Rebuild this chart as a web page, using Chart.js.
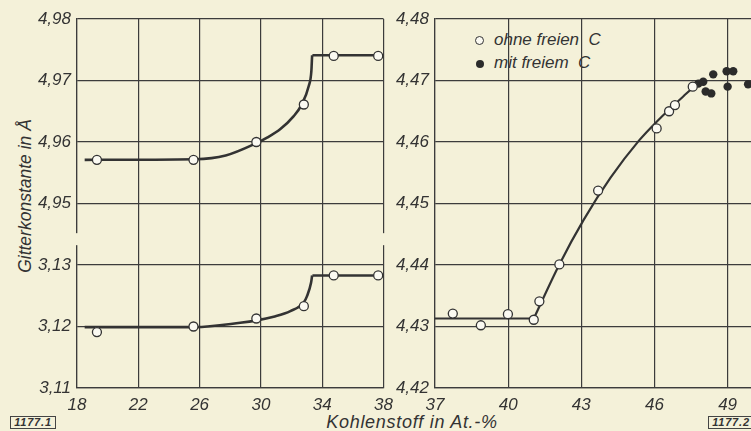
<!DOCTYPE html>
<html>
<head>
<meta charset="utf-8">
<script src="https://cdn.jsdelivr.net/npm/chart.js@4"></script>
<style>
  html, body { margin: 0; padding: 0; }
  body { width: 751px; height: 431px; overflow: hidden; position: relative; background: #f4f1d9; font-family: "Liberation Sans", Arial, sans-serif; font-style: italic; color: #333; }
  canvas { position: absolute; top: 0; }
  #links { left: 0; z-index: 2; }
  #rechts { left: 390px; z-index: 1; }
  .txt { position: absolute; white-space: pre; }
  #ytitel { left: 25px; top: 196px; font-size: 17.5px; transform: translate(-50%, -50%) rotate(-90deg); }
  #xtitel { left: 412px; top: 412px; font-size: 18px; letter-spacing: 0.7px; transform: translateX(-50%); }
  .box { position: absolute; border: 1.3px solid #444; font-size: 11px; font-weight: bold; width: 44px; height: 11px; text-align: center; line-height: 11px; letter-spacing: 0.8px; }
  .leg { position: absolute; font-size: 17px; line-height: 20px; }
  .kreis { position: absolute; width: 7px; height: 7px; border: 1.2px solid #333; border-radius: 50%; background: #fbfaf2; }
  .punkt { position: absolute; width: 8px; height: 8px; border-radius: 50%; background: #2b2b2b; }
</style>
</head>
<body>
<canvas id="links" width="400" height="431"></canvas>
<canvas id="rechts" width="370" height="431"></canvas>

<div class="txt" id="ytitel">Gitterkonstante in Å</div>
<div class="txt" id="xtitel">Kohlenstoff in At.-%</div>
<div class="box" style="left:10px; top:416px;">1177.1</div>
<div class="box" style="left:708px; top:416px;">1177.2</div>

<span class="kreis" style="left:475px; top:36px;"></span>
<div class="leg txt" style="left:494px; top:30px;">ohne freien  C</div>
<span class="punkt" style="left:476px; top:60px;"></span>
<div class="leg txt" style="left:494px; top:53px;">mit freiem  C</div>

<script>
// linkes Bild: Messpunkte (x gleich fuer beide Gitterkonstanten)
const xPunkteLinks = [19.3, 25.6, 29.7, 32.8, 34.75, 37.65];
const yPunkteOben = [4.9571, 4.9571, 4.9600, 4.9661, 4.9740, 4.9740];
const yPunkteUnten = [3.1191, 3.1200, 3.1213, 3.1233, 3.1283, 3.1283];

// linkes Bild: Ausgleichskurven
const xKurveOben = [18.5, 25.7, 27.7, 29.7, 30.4, 31.27, 32.14, 32.64, 33.12, 33.29, 33.34];
const yKurveOben = [4.9571, 4.9572, 4.9578, 4.9598, 4.9607, 4.9621, 4.9642, 4.9660, 4.9691, 4.9715, 4.9741];
const xKurveUnten = [18.5, 25.7, 28.65, 29.74, 30.83, 31.92, 32.79, 33.0, 33.27, 33.34];
const yKurveUnten = [3.1199, 3.1199, 3.1206, 3.1210, 3.1216, 3.1225, 3.1239, 3.1249, 3.1271, 3.1283];
const xPlateauLinks = [33.36, 38];
const yPlateauOben = [4.9741, 4.9741];
const yPlateauUnten = [3.1283, 3.1283];

const xTicksLinks = [18, 22, 26, 30, 34, 38];
const yTickLabelsLinks = ['3,11', '3,12', '3,13', '4,95', '4,96', '4,97', '4,98'];

// rechtes Bild
const xOhneC = [37.73, 38.88, 39.99, 41.05, 41.28, 42.1, 43.69, 46.09, 46.6, 46.84, 47.57];
const yOhneC = [4.4321, 4.4302, 4.4320, 4.4311, 4.4341, 4.4401, 4.4521, 4.4622, 4.4650, 4.4660, 4.4690];
const xMitC = [47.8, 48.0, 48.1, 48.33, 48.41, 48.96, 49.23, 49.0, 49.84];
const yMitC = [4.4695, 4.4698, 4.4682, 4.4679, 4.4710, 4.4715, 4.4715, 4.4690, 4.4694];
const xFlachRechts = [37, 41.05];
const yFlachRechts = [4.4313, 4.4313];
const xKurveRechts = [41.05, 42.1, 43.09, 44.2, 45.38, 46.09, 47.18, 47.73, 48.0];
const yKurveRechts = [4.4313, 4.4401, 4.4473, 4.4542, 4.4603, 4.4633, 4.4674, 4.4693, 4.4698];

const xTicksRechts = [37, 40, 43, 46, 49];
const yTicksRechts = [4.42, 4.43, 4.44, 4.45, 4.46, 4.47, 4.48];

const tinte = '#333333';
const gitter = '#3c3c3c';
const hintergrund = '#f4f1d9';
const schrift = { family: '"Liberation Sans", Arial, sans-serif', style: 'italic', size: 17 };

// unterbrochene Achse links: 3,11..3,13 unten, 4,95..4,98 oben
function bruch(v) {
    return v > 4 ? 3 + (v - 4.95) * 100 : (v - 3.11) * 100;
}
function paare(xs, ys, f) {
    return xs.map((x, i) => ({ x: x, y: f ? f(ys[i]) : ys[i] }));
}

function kurve(daten, breite) {
    return { data: daten, showLine: true, pointRadius: 0, borderColor: tinte, borderWidth: breite,
             cubicInterpolationMode: 'monotone', order: 2 };
}
function offen(daten) {
    return { data: daten, showLine: false, pointRadius: 4.5, pointBorderWidth: 1.3,
             pointBackgroundColor: '#fbfaf2', pointBorderColor: tinte, order: 0 };
}

// Rahmen links und rechts an der Bruchstelle unterbrechen
const achsenBruch = {
    id: 'achsenBruch',
    afterDraw(chart) {
        const a = chart.chartArea;
        const y = chart.scales.y.getPixelForValue(2.42);
        const ctx = chart.ctx;
        ctx.save();
        ctx.fillStyle = hintergrund;
        ctx.fillRect(a.left - 3, y - 6, 6, 12);
        ctx.fillRect(a.right - 3, y - 6, 6, 12);
        ctx.restore();
    }
};

function skalen(xMin, xMax, xTicks, yMin, yMax, yTicks, yLabel, yBreite) {
    return {
        x: {
            type: 'linear', min: xMin, max: xMax,
            afterBuildTicks: s => { s.ticks = xTicks.map(v => ({ value: v })); },
            afterFit: s => { s.height = 43; },
            grid: { color: gitter, lineWidth: 1.2, drawTicks: false },
            border: { color: gitter, width: 1.2 },
            ticks: { color: tinte, font: schrift, padding: 7, maxRotation: 0 }
        },
        y: {
            type: 'linear', min: yMin, max: yMax,
            afterBuildTicks: s => { s.ticks = yTicks.map(v => ({ value: v })); },
            afterFit: s => { s.width = yBreite; },
            grid: { color: gitter, lineWidth: 1.2, drawTicks: false },
            border: { color: gitter, width: 1.2 },
            ticks: { color: tinte, font: schrift, padding: 6, callback: yLabel }
        }
    };
}

new Chart(document.getElementById('links'), {
    type: 'scatter',
    data: {
        datasets: [
            offen(paare(xPunkteLinks, yPunkteOben, bruch)),
            offen(paare(xPunkteLinks, yPunkteUnten, bruch)),
            kurve(paare(xKurveOben, yKurveOben, bruch), 2.6),
            kurve(paare(xKurveUnten, yKurveUnten, bruch), 2.6),
            kurve(paare(xPlateauLinks, yPlateauOben, bruch), 2.6),
            kurve(paare(xPlateauLinks, yPlateauUnten, bruch), 2.6)
        ]
    },
    options: {
        responsive: false, animation: false, devicePixelRatio: 1,
        layout: { padding: { top: 19, right: 12, left: 0, bottom: 0 } },
        plugins: { legend: { display: false }, tooltip: { enabled: false } },
        scales: skalen(18, 38, xTicksLinks, 0, 6, [0, 1, 2, 3, 4, 5, 6],
                       v => yTickLabelsLinks[Math.round(v)], 77)
    },
    plugins: [achsenBruch]
});

new Chart(document.getElementById('rechts'), {
    type: 'scatter',
    data: {
        datasets: [
            offen(paare(xOhneC, yOhneC)),
            { data: paare(xMitC, yMitC), showLine: false, pointRadius: 4.2, pointBorderWidth: 0,
              pointBackgroundColor: '#2b2b2b', order: 0 },
            kurve(paare(xFlachRechts, yFlachRechts), 2.2),
            kurve(paare(xKurveRechts, yKurveRechts), 2.2)
        ]
    },
    options: {
        responsive: false, animation: false, devicePixelRatio: 1,
        layout: { padding: { top: 19, right: 8, left: 0, bottom: 0 } },
        plugins: { legend: { display: false }, tooltip: { enabled: false } },
        scales: skalen(37, 50, xTicksRechts, 4.42, 4.48, yTicksRechts,
                       v => v.toFixed(2).replace('.', ','), 45)
    }
});
</script>
</body>
</html>
